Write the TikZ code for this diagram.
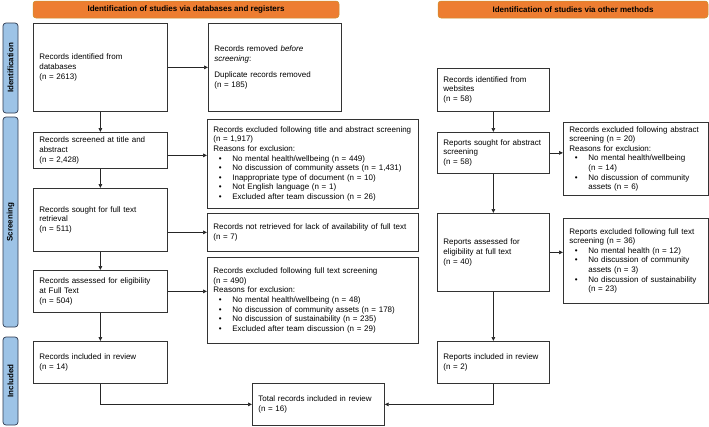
\documentclass[tikz,border=0pt]{standalone}
\usepackage{fontspec}
\setmainfont{Liberation Sans}
\usetikzlibrary{arrows.meta,calc}
\definecolor{hdrfill}{HTML}{ED7D31}
\definecolor{hdrdraw}{HTML}{C9922E}
\definecolor{sidefill}{HTML}{9DC3E6}
\definecolor{sidedraw}{HTML}{2F3B52}
\newcommand{\bul}[1]{\makebox[19pt][l]{\hspace{5.5pt}\textbullet}#1}
\newcommand{\hng}{\hspace*{19pt}}
\begin{document}
\begin{tikzpicture}[x=1pt,y=-1pt,font=\fontsize{8}{9.6}\selectfont,
  box/.style={draw=black!80, line width=0.7pt, fill=white, inner xsep=6pt, inner ysep=2pt, anchor=north west, align=left},
  hdr/.style={draw=hdrdraw, line width=0.5pt, fill=hdrfill, rounded corners=3pt, inner sep=0pt, font=\fontsize{8}{9.6}\selectfont\bfseries},
  side/.style={draw=sidedraw, line width=0.7pt, fill=sidefill, rounded corners=3pt, inner sep=0pt, rotate=90, font=\fontsize{8}{9.6}\selectfont\bfseries},
  arr/.style={-{Triangle[length=4pt,width=3.6pt]}, line width=0.7pt, draw=black!85},
  ln/.style={line width=0.7pt, draw=black!85}]
\fill[white] (0,0) rectangle (709,426);
\useasboundingbox (0,0) rectangle (709,426);

% headers
\node[hdr, minimum width=306pt, minimum height=17pt] (H1) at (186,9.5) {Identification of studies via databases and registers};
\node[hdr, minimum width=270pt, minimum height=17pt] (H2) at (573,9.5) {Identification of studies via other methods};

% side labels
\node[side, minimum width=90pt, minimum height=15pt] (L1) at (10.5,68) {Identification};
\node[side, minimum width=210pt, minimum height=15pt] (L2) at (10.5,222) {Screening};
\node[side, minimum width=88pt, minimum height=15pt] (L3) at (10.5,381) {Included};

% left column
\node[box, text width=122pt, minimum height=88pt] (A1) at (33,23) {Records identified from\\databases\\(n = 2613)};
\node[box, text width=122pt, minimum height=36pt] (A2) at (33,132) {Records screened at title and\\abstract\\(n = 2,428)};
\node[box, text width=122pt, minimum height=63pt] (A3) at (33,188) {Records sought for full text\\retrieval\\(n = 511)};
\node[box, text width=122pt, minimum height=42pt] (A4) at (33,270) {Records assessed for eligibility\\at Full Text\\(n = 504)};
\node[box, text width=122pt, minimum height=42pt] (A5) at (33,341) {Records included in review\\(n = 14)\\[4pt]};

% middle column
\node[box, text width=121pt, minimum height=88pt] (B1) at (208,23) {Records removed \textit{before}\\\textit{screening}:\\[7pt]Duplicate records removed\\(n = 185)};
\node[box, text width=199pt, minimum height=89pt] (B2) at (207,119) {Records excluded following title and abstract screening\\(n = 1,917)\\Reasons for exclusion:\\
\bul{No mental health/wellbeing (n = 449)}\\
\bul{No discussion of community assets (n = 1,431)}\\
\bul{Inappropriate type of document (n = 10)}\\
\bul{Not English language (n = 1)}\\
\bul{Excluded after team discussion (n = 26)}};
\node[box, text width=199pt, minimum height=38pt] (B3) at (207,213) {Records not retrieved for lack of availability of full text\\(n = 7)};
\node[box, text width=199pt, minimum height=86pt] (B4) at (207,257) {Records excluded following full text screening\\(n = 490)\\Reasons for exclusion:\\
\bul{No mental health/wellbeing (n = 48)}\\
\bul{No discussion of community assets (n = 178)}\\
\bul{No discussion of sustainability (n = 235)}\\
\bul{Excluded after team discussion (n = 29)}};
\node[box, text width=120pt, minimum height=42pt] (T) at (252,383) {Total records included in review\\(n = 16)\\[4pt]};

% right column
\node[box, text width=100pt, minimum height=43pt] (C1) at (437,68) {Records identified from\\websites\\(n = 58)};
\node[box, text width=100pt, minimum height=41pt] (C2) at (437,132) {Reports sought for abstract\\screening\\(n = 58)};
\node[box, text width=100pt, minimum height=78pt] (C3) at (437,213) {Reports assessed for\\eligibility at full text\\(n = 40)};
\node[box, text width=100pt, minimum height=42pt] (C4) at (437,341) {Reports included in review\\(n = 2)};

% far right column
\node[box, text width=133pt, minimum height=73pt] (D1) at (563,122) {Records excluded following abstract\\screening (n = 20)\\Reasons for exclusion:\\
\bul{No mental health/wellbeing}\\\hng(n = 14)\\
\bul{No discussion of community}\\\hng assets (n = 6)};
\node[box, text width=133pt, minimum height=85pt] (D2) at (563,218) {Reports excluded following full text\\screening (n = 36)\\
\bul{No mental health (n = 12)}\\
\bul{No discussion of community}\\\hng assets (n = 3)\\
\bul{No discussion of sustainability}\\\hng(n = 23)};

% connectors
\draw[arr] (A1.east) -- (A1.east -| B1.west);
\draw[arr] ([yshift=-5pt]A2.east) -- ([yshift=-5pt]A2.east -| B2.west);
\draw[arr] (A3.east |- B3.west) -- (B3.west);
\draw[arr] (A4.east) -- (A4.east -| B4.west);
\draw[arr] (A1.south) -- (A2.north);
\draw[arr] (A2.south) -- (A3.north);
\draw[arr] (A3.south) -- (A4.north);
\draw[arr] (A4.south) -- (A5.north);
\draw[arr] (A5.south) |- (T.west);
\draw[arr] (C1.south) -- (C2.north);
\draw[arr] (C2.south) -- (C3.north);
\draw[arr] (C3.south) -- (C4.north);
\draw[arr] (C2.east) -- (C2.east -| D1.west);
\draw[arr] (C3.east) -- (C3.east -| D2.west);
\draw[arr] (C4.south) |- (T.east);
\end{tikzpicture}
\end{document}
